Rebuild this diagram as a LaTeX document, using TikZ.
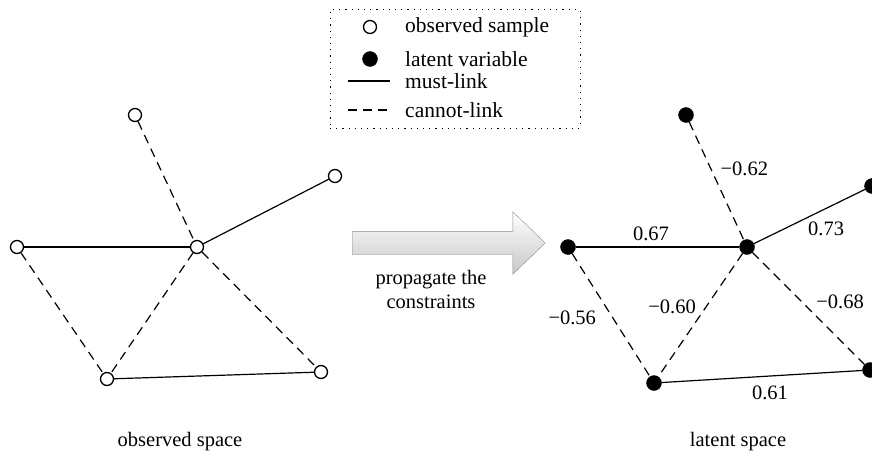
\documentclass[tikz,border=0pt]{standalone}
\usepackage{fontspec}
\setmainfont{Liberation Serif}
\usetikzlibrary{positioning,shapes.arrows}
\tikzset{%
  obs/.style={draw,circle,fill=white,line width=1.3pt,minimum size=13pt,inner sep=0pt},
  lat/.style={draw,circle,fill=black,minimum size=15pt,inner sep=0pt},
  must/.style={line width=1.2pt},
  cannot/.style={line width=1.2pt,dash pattern=on 9pt off 6pt}%
}

\begin{document}
\begin{tikzpicture}[
    x=1pt, y=-1pt,
    font=\fontsize{20.5}{24}\selectfont,
    lbl/.style={inner sep=0pt},
    keytext/.style={anchor=west, inner sep=0pt, font=\fontsize{21.5}{24}\selectfont},
    bigarrow/.style={
        single arrow,
        draw=black!45,
        top color=white,
        bottom color=black!22,
        minimum height=193pt,
        inner xsep=0pt,
        inner ysep=11.5pt,
        single arrow head extend=19.5pt,
        single arrow tip angle=88
    }
]
\useasboundingbox (0,0) rectangle (872,452);

% Legend
\node[draw, line width=1pt, dash pattern=on 1.2pt off 5pt,
      minimum width=250pt, minimum height=118pt] (legend) at (455,69) {};
\node[obs] (kobs) at (370,27) {};
\node[keytext] (tobs) at (405,27) {observed sample};
\node[lat] (klat) at (370,59) {};
\node[keytext] (tlat) at (405,59) {latent variable};
\coordinate (km1) at (348,81);
\coordinate (km2) at (390,81);
\draw[must] (km1) -- (km2);
\node[keytext] (tmust) at (405,81) {must-link};
\coordinate (kc1) at (348,110);
\coordinate (kc2) at (390,110);
\draw[cannot] (kc1) -- (kc2);
\node[keytext] (tcannot) at (405,110) {cannot-link};

% Observed space
\node[obs] (o1) at (135,115) {};
\node[obs] (o2) at (335,176) {};
\node[obs] (o3) at (17,247) {};
\node[obs] (o4) at (197,247) {};
\node[obs] (o5) at (107,379) {};
\node[obs] (o6) at (321,372) {};

\draw[must] (o3) -- (o4);
\draw[must] (o4) -- (o2);
\draw[must] (o5) -- (o6);
\draw[cannot] (o1) -- (o4);
\draw[cannot] (o3) -- (o5);
\draw[cannot] (o4) -- (o5);
\draw[cannot] (o4) -- (o6);

\node (obsname) at (180,442) {observed space};

% Propagation arrow
\node[bigarrow, anchor=tail] (prop) at (352,243) {};
\node[align=center, inner sep=0pt] (proptext) at (431,289) {propagate the\\constraints};

% Latent space
\node[lat] (z1) at (686,115) {};
\node[lat] (z2) at (872,186) {};
\node[lat] (z3) at (568,247) {};
\node[lat] (z4) at (747,247) {};
\node[lat] (z5) at (654,383) {};
\node[lat] (z6) at (870,370) {};

\draw[must] (z3) -- node[lbl, pos=0.46, above=6pt] (w34) {0.67} (z4);
\draw[must] (z4) -- node[lbl, pos=0.65, below=13pt] (w42) {0.73} (z2);
\draw[must] (z5) -- node[lbl, pos=0.54, below=9pt] (w56) {0.61} (z6);
\draw[cannot] (z1) -- node[lbl, pos=0.4, right=9pt] (w14) {−0.62} (z4);
\draw[cannot] (z3) -- node[lbl, pos=0.52, left=16pt] (w35) {−0.56} (z5);
\draw[cannot] (z4) -- node[lbl, pos=0.43, left=10pt] (w45) {−0.60} (z5);
\draw[cannot] (z4) -- node[lbl, pos=0.44, right=14pt] (w46) {−0.68} (z6);

\node (latname) at (738,442) {latent space};

\end{tikzpicture}
\end{document}
